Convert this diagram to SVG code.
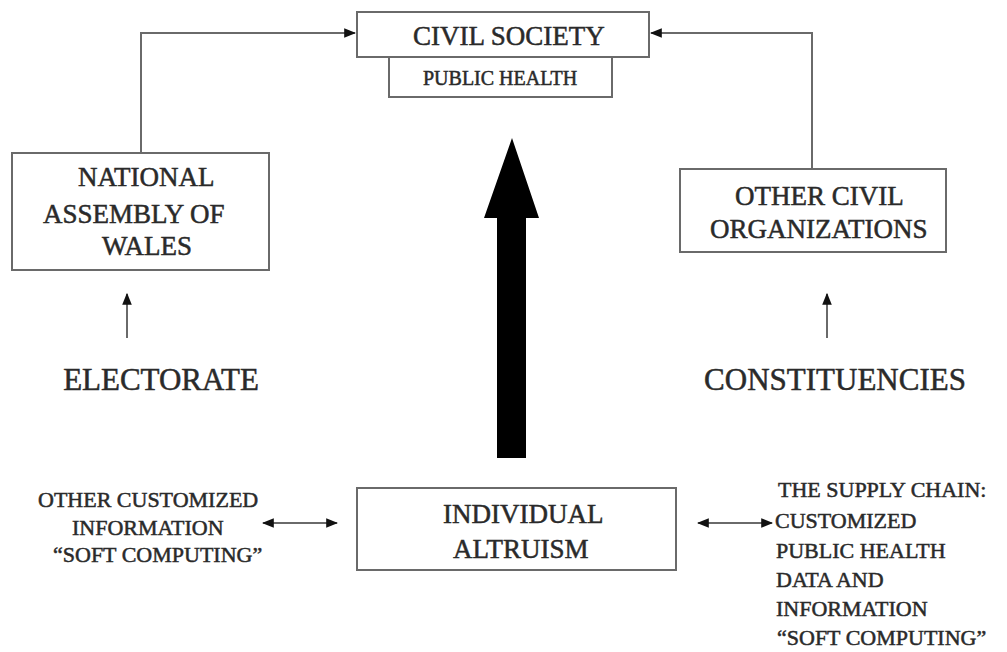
<svg xmlns="http://www.w3.org/2000/svg" width="1007" height="652" viewBox="0 0 1007 652">
<style>
.box{fill:#fff;stroke:#6a6a6a;stroke-width:2}
.ln{fill:none;stroke:#6a6a6a;stroke-width:2}
.big{font-size:27px}
.lab{font-size:31px}
.sm{font-size:22px}
.ph{font-size:20px}
.t text{stroke:#2a2a2a;stroke-width:0.5}
</style>
<defs>
<marker id="ah" viewBox="0 0 10 10" refX="9" refY="5" markerWidth="6" markerHeight="6" markerUnits="strokeWidth" orient="auto-start-reverse">
<path d="M0,1 L10,5 L0,9 z" fill="#111"/>
</marker>
</defs>
<rect width="1007" height="652" fill="#fff"/>
<g id="connectors">
<polyline class="ln" points="141,153 141,33 355,33" marker-end="url(#ah)"/>
<polyline class="ln" points="812,169 812,33 651,33" marker-end="url(#ah)"/>
<line class="ln" x1="127" y1="338" x2="127" y2="294" marker-end="url(#ah)"/>
<line class="ln" x1="827" y1="338" x2="827" y2="294" marker-end="url(#ah)"/>
<line class="ln" x1="263" y1="523" x2="337" y2="523" marker-start="url(#ah)" marker-end="url(#ah)"/>
<line class="ln" x1="698" y1="523" x2="772" y2="523" marker-start="url(#ah)" marker-end="url(#ah)"/>
<polygon id="big-arrow" points="512,138 539,218 526,218 526,458 497,458 497,218 484,218" fill="#000"/>
</g>
<g class="t" font-family="'Liberation Serif', 'DejaVu Serif', serif" fill="#2a2a2a">
<g id="public-health">
<rect class="box" x="389" y="57" width="223" height="40"/>
<text class="ph" x="423" y="85">PUBLIC HEALTH</text>
</g>
<g id="civil-society">
<rect class="box" x="357" y="12" width="292" height="45"/>
<text class="big" x="413" y="45">CIVIL SOCIETY</text>
</g>
<g id="national-assembly">
<rect class="box" x="12" y="153" width="257" height="117"/>
<text class="big" x="78" y="186">NATIONAL</text>
<text class="big" x="43" y="223">ASSEMBLY OF</text>
<text class="big" x="102" y="255">WALES</text>
</g>
<g id="other-civil">
<rect class="box" x="680" y="169" width="266" height="83"/>
<text class="big" x="735" y="205">OTHER CIVIL</text>
<text class="big" x="710" y="238">ORGANIZATIONS</text>
</g>
<g id="electorate">
<text class="lab" x="161" y="390" text-anchor="middle">ELECTORATE</text>
</g>
<g id="constituencies">
<text class="lab" x="835" y="390" text-anchor="middle">CONSTITUENCIES</text>
</g>
<g id="individual-altruism">
<rect class="box" x="357" y="488" width="319" height="82"/>
<text class="big" x="443" y="523">INDIVIDUAL</text>
<text class="big" x="453" y="558">ALTRUISM</text>
</g>
<g id="other-customized">
<text class="sm" x="38" y="507">OTHER CUSTOMIZED</text>
<text class="sm" x="72" y="535">INFORMATION</text>
<text class="sm" x="53" y="562">“SOFT COMPUTING”</text>
</g>
<g id="supply-chain">
<text class="sm" x="778" y="497">THE SUPPLY CHAIN:</text>
<text class="sm" x="775" y="528">CUSTOMIZED</text>
<text class="sm" x="776" y="558">PUBLIC HEALTH</text>
<text class="sm" x="776" y="587">DATA AND</text>
<text class="sm" x="776" y="616">INFORMATION</text>
<text class="sm" x="777" y="645">“SOFT COMPUTING”</text>
</g>
</g>
</svg>
